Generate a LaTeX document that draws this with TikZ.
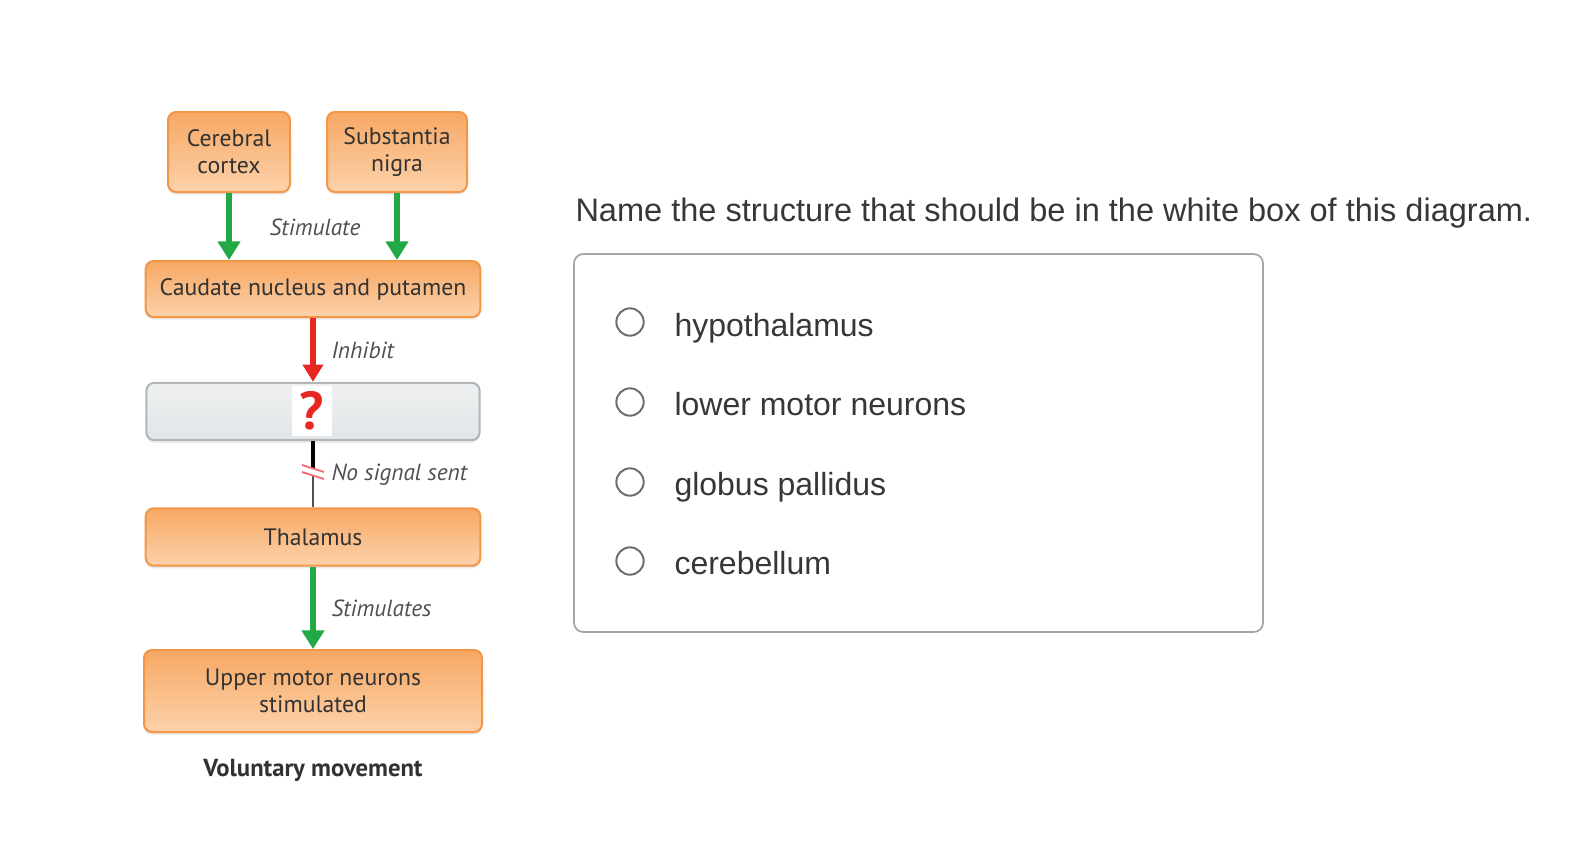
\documentclass[tikz,border=0pt]{standalone}
\usepackage{fontspec}
\setmainfont{PT Sans}
\newfontfamily\quizfont{Liberation Sans}
\usetikzlibrary{arrows.meta,shadows}

\definecolor{organedge}{RGB}{243,150,72}
\definecolor{organtop}{RGB}{247,168,100}
\definecolor{organbottom}{RGB}{252,210,170}
\definecolor{blankedge}{RGB}{176,181,186}
\definecolor{blanktop}{RGB}{238,240,241}
\definecolor{blankbottom}{RGB}{226,229,231}
\definecolor{stimgreen}{RGB}{34,168,68}
\definecolor{inhibred}{RGB}{232,38,34}
\definecolor{slashred}{RGB}{240,110,120}
\definecolor{labelgray}{RGB}{80,80,80}
\definecolor{boxtext}{RGB}{50,50,50}
\definecolor{quiztext}{RGB}{55,55,55}
\definecolor{quizedge}{RGB}{165,165,165}
\definecolor{radioedge}{RGB}{110,110,110}

\tikzset{every picture/.style={line width=0.75pt}}
\tikzset{
  organbox/.style={draw=organedge, line width=1.5pt, rounded corners=6pt,
    top color=organtop, bottom color=organbottom, text=boxtext,
    font=\fontsize{17.8}{20}\selectfont, align=center, inner sep=0pt,
    drop shadow={opacity=0.18, shadow xshift=0pt, shadow yshift=-2pt}},
  blankbox/.style={draw=blankedge, line width=1.5pt, rounded corners=6pt,
    top color=blanktop, bottom color=blankbottom, inner sep=0pt,
    drop shadow={opacity=0.15, shadow xshift=0pt, shadow yshift=-2pt}},
  pathlabel/.style={text=labelgray, font=\fontsize{17.5}{20}\selectfont\itshape, inner sep=0pt},
  greenarrow/.style={draw=stimgreen, line width=4.5pt,
    -{Triangle[width=16.5pt,length=14pt]}, stimgreen},
  redarrow/.style={draw=inhibred, line width=4pt,
    -{Triangle[width=15pt,length=13pt]}, inhibred},
  radio/.style={circle, draw=radioedge, line width=1.5pt, minimum size=20.5pt, inner sep=0pt},
  option/.style={anchor=base west, text=quiztext, font=\quizfont\fontsize{24}{28}\selectfont, inner sep=0pt}
}

\begin{document}
\begin{tikzpicture}[x=0.75pt,y=0.75pt,yscale=-1,xscale=1]
	\useasboundingbox (0,0) rectangle (1590,853);

	%Shape: Rounded Rect [cerebral cortex]
	\node[organbox, minimum width=91.5pt, minimum height=60pt] (cortex) at (229,152) {Cerebral\\cortex};
	%Shape: Rounded Rect [substantia nigra]
	\node[organbox, minimum width=105pt, minimum height=60pt] (nigra) at (397,152) {Substantia\\nigra};
	%Shape: Rounded Rect [caudate]
	\node[organbox, minimum width=251pt, minimum height=42pt] (caudate) at (313,289) {Caudate nucleus and putamen};
	%Shape: Rounded Rect [blank]
	\node[blankbox, minimum width=250pt, minimum height=43pt] (blank) at (313,411.5) {};
	%Shape: Rectangle [question mark]
	\node[fill=white, minimum width=30pt, minimum height=37pt, inner sep=0pt, text=inhibred,
	  font=\fontsize{40}{40}\selectfont\bfseries] (mystery) at (312,411) {?};
	%Shape: Rounded Rect [thalamus]
	\node[organbox, minimum width=251pt, minimum height=43pt] (thal) at (313,537) {Thalamus};
	%Shape: Rounded Rect [upper motor neurons]
	\node[organbox, minimum width=253.5pt, minimum height=61.5pt] (upper) at (313,691) {Upper motor neurons\\stimulated};

	%Straight Lines
	\draw[greenarrow] (cortex.south) -- (cortex.south |- caudate.north);
	\draw[greenarrow] (nigra.south) -- (nigra.south |- caudate.north);
	\draw[redarrow] (caudate.south) -- (blank.north);
	\coordinate (cut) at (313,472);
	\draw[line width=2.6pt, black] (blank.south) -- ([yshift=-3]cut);
	\draw[line width=1.2pt, labelgray] ([yshift=3]cut) -- (thal.north);
	\draw[line width=1.4pt, slashred] ([shift={(-11,-7)}]cut) -- ([shift={(11,0)}]cut);
	\draw[line width=1.4pt, slashred] ([shift={(-11,0)}]cut) -- ([shift={(11,7)}]cut);
	\draw[greenarrow] (thal.south) -- (upper.north);

	% Text Node
	\node[pathlabel] (stimlabel) at (315,227) {Stimulate};
	% Text Node
	\node[pathlabel, anchor=west] (inhiblabel) at (331,350) {Inhibit};
	% Text Node
	\node[pathlabel, anchor=west] (nosignal) at (331,475) {No signal sent};
	% Text Node
	\node[pathlabel, anchor=west] (stimslabel) at (331,608) {Stimulates};
	% Text Node
	\node[text=boxtext, font=\fontsize{18.5}{21}\selectfont\bfseries] (voluntary) at (313,770) {Voluntary movement};

	% Text Node
	\node[anchor=west, text=quiztext, font=\quizfont\fontsize{24.4}{28}\selectfont, inner sep=0pt] (question) at (575,213)
	  {Name the structure that should be in the white box of this diagram.};

	%Shape: Rounded Rect [answers]
	\draw[draw=quizedge, line width=1.3pt, rounded corners=7pt] (574,254) rectangle (1263,632);

	%Shape: Circle
	\node[radio] (radioa) at (630,322) {};
	\node[option] (opta) at (674,336) {hypothalamus};
	%Shape: Circle
	\node[radio] (radiob) at (630,402) {};
	\node[option] (optb) at (674,415) {lower motor neurons};
	%Shape: Circle
	\node[radio] (radioc) at (630,482) {};
	\node[option] (optc) at (674,495) {globus pallidus};
	%Shape: Circle
	\node[radio] (radiod) at (630,561) {};
	\node[option] (optd) at (674,574) {cerebellum};

\end{tikzpicture}
\end{document}
